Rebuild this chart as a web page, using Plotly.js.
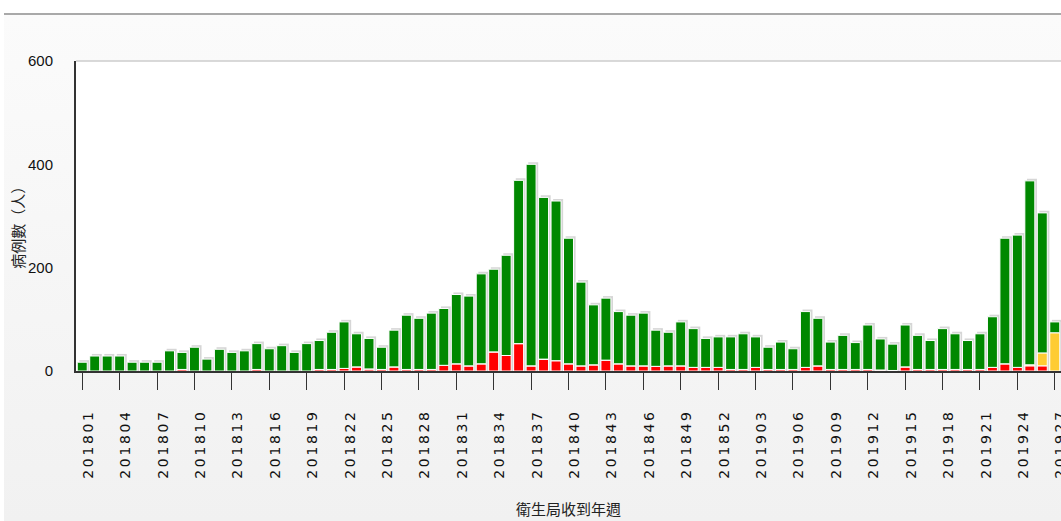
<!DOCTYPE html>
<html>
<head>
<meta charset="utf-8">
<script src="https://cdn.plot.ly/plotly-3.0.1.min.js"></script>
<style>
  html, body { margin: 0; padding: 0; background: #ffffff; width: 1061px; height: 521px; overflow: hidden; }
  #bg { position: absolute; left: 4px; top: 13px; width: 1057px; height: 506px;
        border-top: 2px solid #a9a9a9;
        background: linear-gradient(#fbfbfb, #f1f1f1); }
  #chart { position: absolute; left: 0; top: 0; width: 1061px; height: 521px; }
  #chart .xtick text { letter-spacing: 2.6px; translate: 6px 0; }
</style>
</head>
<body>
<div id="bg"></div>
<div id="chart"></div>
<script>
const weeks = [
  "201801","201802","201803","201804","201805","201806","201807","201808","201809","201810",
  "201811","201812","201813","201814","201815","201816","201817","201818","201819","201820",
  "201821","201822","201823","201824","201825","201826","201827","201828","201829","201830",
  "201831","201832","201833","201834","201835","201836","201837","201838","201839","201840",
  "201841","201842","201843","201844","201845","201846","201847","201848","201849","201850",
  "201851","201852","201901","201902","201903","201904","201905","201906","201907","201908",
  "201909","201910","201911","201912","201913","201914","201915","201916","201917","201918",
  "201919","201920","201921","201922","201923","201924","201925","201926","201927"
];
const redCases = [
  0,0,0,0,0,0,0,0,3,0,
  0,0,0,0,3,0,0,0,0,3,
  3,5,8,4,3,8,3,3,3,11,
  14,10,14,37,30,53,10,23,20,14,
  10,12,21,14,10,10,9,10,10,7,
  7,7,3,3,7,3,3,3,7,10,
  3,3,3,3,2,1,8,3,3,3,
  3,3,3,7,14,7,10,10,0
];
const yellowCases = [
  0,0,0,0,0,0,0,0,0,0,
  0,0,0,0,0,0,0,0,0,0,
  0,0,0,0,0,0,0,0,0,0,
  0,0,0,0,0,0,0,0,0,0,
  0,0,0,0,0,0,0,0,0,0,
  0,0,0,0,0,0,0,0,0,0,
  0,0,0,0,0,0,0,0,0,0,
  0,0,0,0,0,0,2,25,74
];
const greenCases = [
  17,29,29,29,17,17,17,39,33,46,
  23,42,36,39,50,43,49,36,53,56,
  72,90,64,59,43,71,105,99,109,110,
  134,135,174,160,194,316,390,313,309,243,
  162,116,120,101,98,102,70,65,85,75,
  56,59,63,69,59,43,53,40,108,92,
  53,66,52,86,60,51,81,66,56,79,
  69,56,69,98,243,256,356,271,21
];
const tickLabels = [
  "201801","201804","201807","201810","201813","201816","201819","201822","201825",
  "201828","201831","201834","201837","201840","201843","201846","201849","201852",
  "201903","201906","201909","201912","201915","201918","201921","201924","201927"
];
const yTicks = [0, 200, 400, 600];
const xTitle = "衛生局收到年週";
const yTitle = "病例數（人）";

const totals = weeks.map((w, i) => redCases[i] + yellowCases[i] + greenCases[i]);
const greenBase = weeks.map((w, i) => redCases[i] + yellowCases[i]);

const barW = 0.8;
const edge = { color: "#ffffff", width: 1 };

const traces = [
  { type: "bar", x: weeks, y: totals.map(v => v + 4), base: 0,
    width: barW, offset: -barW / 2 + 0.17,
    marker: { color: "#d6d6d6", line: { width: 0 } }, hoverinfo: "skip", showlegend: false },
  { type: "bar", x: weeks, y: redCases, base: 0, width: barW,
    marker: { color: "#ff0000", line: edge }, hoverinfo: "skip", showlegend: false },
  { type: "bar", x: weeks, y: yellowCases, base: redCases, width: barW,
    marker: { color: "#ffcc33", line: edge }, hoverinfo: "skip", showlegend: false },
  { type: "bar", x: weeks, y: greenCases, base: greenBase, width: barW,
    marker: { color: "#008800", line: edge }, hoverinfo: "skip", showlegend: false }
];

const layout = {
  width: 1061, height: 521,
  margin: { l: 76, r: 0, t: 61, b: 150, pad: 0 },
  paper_bgcolor: "rgba(0,0,0,0)",
  plot_bgcolor: "#ffffff",
  barmode: "overlay",
  showlegend: false,
  xaxis: {
    type: "category",
    range: [-0.5, 78.5],
    tickmode: "array",
    tickvals: tickLabels,
    ticktext: tickLabels,
    tickangle: -90,
    ticks: "outside", ticklen: 17, tickwidth: 1, tickcolor: "#333333",
    ticklabelstandoff: 14,
    tickfont: { family: "DejaVu Sans", size: 14, color: "#111111" },
    showline: true, linecolor: "#333333", linewidth: 2,
    showgrid: false, zeroline: false, fixedrange: true
  },
  yaxis: {
    range: [0, 600],
    tickmode: "array",
    tickvals: yTicks,
    ticktext: yTicks.map(String),
    ticks: "",
    ticklabelstandoff: 18,
    tickfont: { family: "Liberation Sans", size: 15, color: "#111111" },
    showline: true, linecolor: "#333333", linewidth: 2,
    showgrid: false, zeroline: false, fixedrange: true
  },
  shapes: [
    { type: "line", xref: "paper", yref: "paper", x0: 0, x1: 1, y0: 1, y1: 1,
      line: { color: "#cccccc", width: 1.5 } }
  ],
  annotations: [
    { text: xTitle, xref: "paper", yref: "paper", x: 0.5, y: -0.442,
      xanchor: "center", yanchor: "middle", showarrow: false,
      font: { family: "Noto Sans CJK TC", size: 15, color: "#222222" } },
    { text: yTitle, xref: "paper", yref: "paper", x: -0.0589, y: 0.475,
      xanchor: "center", yanchor: "middle", textangle: -90, showarrow: false,
      font: { family: "Noto Sans CJK TC", size: 15, color: "#222222" } }
  ]
};

Plotly.newPlot("chart", traces, layout, { displayModeBar: false, staticPlot: true });
</script>
</body>
</html>
